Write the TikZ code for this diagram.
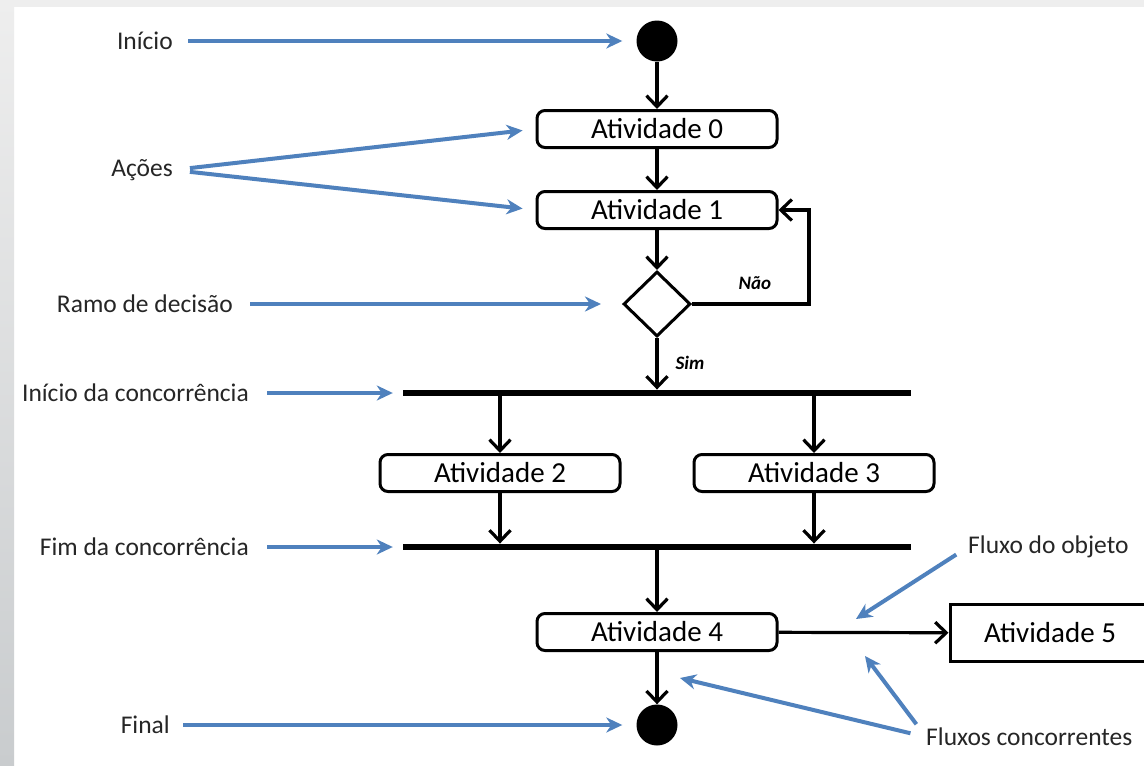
\documentclass[tikz,border=0pt]{standalone}
\usepackage{fontspec}
\setmainfont{Carlito}
\usetikzlibrary{arrows.meta,shapes.geometric}
\definecolor{callout}{HTML}{4F81BD}
\definecolor{frame}{HTML}{C9CCCE}
\definecolor{frametop}{HTML}{EEEEEE}
\begin{document}
\begin{tikzpicture}[x=1pt,y=-1pt,
  flow/.style={line width=3.2pt, -{Straight Barb[length=11pt,width=21pt]}},
  act/.style={draw, line width=3pt, rounded corners=8pt, minimum width=240pt,
    minimum height=37pt, inner sep=0pt, font=\fontsize{29}{33}\selectfont},
  bar/.style={fill=black, minimum width=508pt, minimum height=6.5pt, inner sep=0pt},
  dot/.style={circle, fill=black, minimum size=41pt, inner sep=0pt},
  decision/.style={diamond, draw, line width=3pt, minimum width=67pt,
    minimum height=65pt, inner sep=0pt},
  note/.style={font=\fontsize{25.5}{30}\selectfont, text=black!85, inner sep=0pt},
  hint/.style={draw=callout, line width=4pt,
    -{Stealth[length=16pt,width=15pt,inset=5pt]}},
  guard/.style={font=\fontsize{19}{22}\selectfont\bfseries\itshape}
]
% page and slide frame
\useasboundingbox (0,0) rectangle (1144,766);
\fill[white] (0,0) rectangle (1144,766);
\fill[frametop] (0,0) rectangle (1144,7);
\shade[top color=frametop, bottom color=frame] (0,0) rectangle (14,766);

% activity flow
\node[dot] (start) at (657,41) {};
\node[act] (a0) at (657,129) {Atividade 0};
\node[act] (a1) at (657,210) {Atividade 1};
\node[decision] (dec) at (657,304) {};
\node[bar] (fork) at (657,393) {};
\node[act] (a2) at (500,473) {Atividade 2};
\node[act] (a3) at (814,473) {Atividade 3};
\node[bar] (join) at (657,547) {};
\node[act] (a4) at (657,632) {Atividade 4};
\node[draw, line width=3pt, minimum width=200pt, minimum height=57pt, inner sep=0pt,
  font=\fontsize{29}{33}\selectfont] (a5) at (1050,633) {Atividade 5};
\node[dot] (endd) at (657,725) {};

\draw[flow] (start) -- (a0);
\draw[flow] (a0) -- (a1);
\draw[flow] (a1) -- (dec);
\draw[flow] (dec.east) -- ++(117,0) |- (a1.east);
\draw[flow] (dec) -- (fork);
\draw[flow] (a2.north |- fork.south) -- (a2.north);
\draw[flow] (a3.north |- fork.south) -- (a3.north);
\draw[flow] (a2.south) -- (a2.south |- join.north);
\draw[flow] (a3.south) -- (a3.south |- join.north);
\draw[flow] (join) -- (a4);
\draw[flow] (a4) -- (a5);
\draw[flow] (a4) -- (endd);

\node[guard] (nao) at (755,283) {Não};
\node[guard] (sim) at (690,363) {Sim};

% explanatory labels
\node[note, anchor=east] (lstart) at (173,41) {Início};
\node[note, anchor=east] (lact) at (173,170) {Ações};
\node[note, anchor=east] (ldec) at (233,304) {Ramo de decisão};
\node[note, anchor=east] (lfork) at (249,393) {Início da concorrência};
\node[note, anchor=east] (ljoin) at (249,547) {Fim da concorrência};
\node[note, anchor=east] (lend) at (170,725) {Final};
\node[note, anchor=west] (lobj) at (968,547) {Fluxo do objeto};
\node[note, anchor=west] (lconc) at (926,737) {Fluxos concorrentes};

\coordinate (objtip) at (856,619);
\coordinate (conctip1) at (680,678);
\coordinate (conctip2) at (865,656);

\draw[hint, shorten <=15pt, shorten >=14pt] (lstart.east) -- (start.west);
\draw[hint, shorten <=17pt, shorten >=13pt] (lact.east) -- (a0.west);
\draw[hint, shorten <=17pt, shorten >=13pt] (lact.east) -- (a1.west);
\draw[hint, shorten <=17pt, shorten >=21pt] (ldec.east) -- (dec.west);
\draw[hint, shorten <=18pt, shorten >=10pt] (lfork.east) -- (fork.west);
\draw[hint, shorten <=18pt, shorten >=10pt] (ljoin.east) -- (join.west);
\draw[hint, shorten <=13pt, shorten >=14pt] (lend.east) -- (endd.west);
\draw[hint, shorten <=14pt] (lobj.west) -- (objtip);
\draw[hint, shorten <=16pt] (lconc.west) -- (conctip1);
\draw[hint, shorten <=16pt] (lconc.west) -- (conctip2);
\end{tikzpicture}
\end{document}
